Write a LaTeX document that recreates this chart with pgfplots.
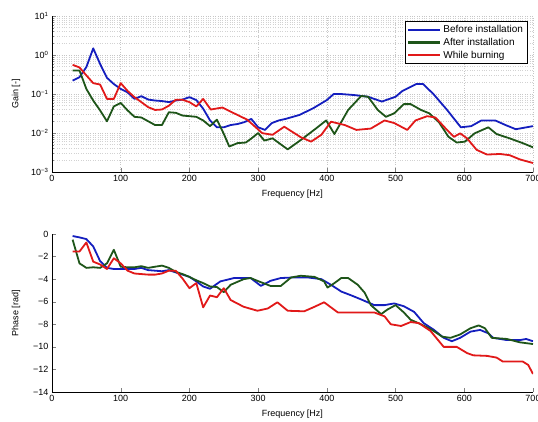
\documentclass[border=0pt]{standalone}
\usepackage{fontspec}
\setmainfont{Liberation Sans}
\usepackage{pgfplots}
\pgfplotsset{compat=1.18}
\definecolor{cblue}{RGB}{20,30,190}
\definecolor{cgreen}{RGB}{30,85,25}
\definecolor{cred}{RGB}{225,25,25}
\begin{document}
\begin{tikzpicture}
\pgfplotsset{
  myax/.style={
    scale only axis, width=481pt,
    xmin=0, xmax=700, xtick={0,100,...,700},
    axis x line*=bottom, axis y line*=left,
    tick align=inside,
    major tick length=4pt, minor tick length=2pt,
    /pgf/number format/assume math mode=true,
    tick label style={font=\fontsize{9}{10}\selectfont},
    label style={font=\fontsize{9}{10}\selectfont},
    xlabel={Frequency [Hz]},
    xlabel style={at={(axis description cs:0.5,0)},anchor=center,yshift=-22pt},
    ylabel style={at={(axis description cs:0,0.5)},anchor=center,yshift=36pt},
  },
  ln/.style={line width=1.8pt, line join=round},
}
\begin{axis}[myax,
  height=156pt, at={(52pt,249pt)}, anchor=south west,
  ymode=log, ymin=1e-3, ymax=10,
  ytick={1e-3,1e-2,1e-1,1,10},
  yticklabels={10\textsuperscript{−3},10\textsuperscript{−2},10\textsuperscript{−1},10\textsuperscript{0},10\textsuperscript{1}},
  ylabel={Gain [-]},
  xmajorgrids, ymajorgrids, yminorgrids,
  major grid style={dotted, gray!45, line width=0.5pt},
  minor grid style={dotted, gray!35, line width=0.5pt},
  legend style={at={(rel axis cs:0.988,0.968)}, anchor=north east, draw=black, line width=0.6pt,
    font=\fontsize{10}{11}\selectfont, inner sep=2pt, row sep=0pt, cells={anchor=west}},
  legend image code/.code={\draw[#1, line width=2.2pt, line cap=butt] (0pt,0pt) -- (32pt,0pt);},
]
\addplot[cblue, ln] coordinates {
(30,0.22)(40,0.27)(50,0.49)(60,1.48)(70,0.59)(80,0.26)(90,0.18)(100,0.135)(110,0.11)(120,0.075)
(130,0.088)(140,0.072)(150,0.068)(160,0.066)(170,0.062)(180,0.068)(190,0.072)(200,0.083)(210,0.07)
(220,0.042)(230,0.021)(240,0.014)(250,0.014)(260,0.016)(270,0.017)(280,0.019)(290,0.023)(300,0.014)
(310,0.012)(320,0.018)(330,0.021)(340,0.023)(360,0.029)(380,0.043)(400,0.07)(410,0.10)(420,0.10)
(440,0.094)(460,0.085)(480,0.064)(500,0.085)(510,0.12)(530,0.18)(540,0.18)(555,0.10)(575,0.039)
(595,0.014)(610,0.015)(625,0.021)(645,0.021)(660,0.016)(675,0.0125)(700,0.015)};
\addlegendentry{Before installation}
\addplot[cgreen, ln] coordinates {
(30,0.40)(40,0.40)(50,0.135)(60,0.068)(70,0.038)(80,0.020)(90,0.048)(100,0.059)(110,0.038)(120,0.026)
(130,0.025)(140,0.020)(150,0.016)(160,0.016)(170,0.034)(180,0.033)(190,0.028)(200,0.027)(210,0.026)
(220,0.021)(230,0.015)(240,0.022)(250,0.0095)(258,0.0045)(270,0.0055)(282,0.0057)(290,0.0072)(300,0.010)
(309,0.0064)(321,0.0073)(343,0.0038)(362,0.0066)(384,0.013)(399,0.021)(411,0.0094)(431,0.039)(450,0.089)
(460,0.085)(474,0.039)(486,0.026)(498,0.032)(512,0.055)(522,0.055)(537,0.039)(549,0.032)(563,0.019)
(577,0.008)(589,0.0057)(601,0.006)(615,0.0098)(635,0.014)(647,0.0094)(666,0.0073)(685,0.0055)(700,0.0043)};
\addlegendentry{After installation}
\addplot[cred, ln] coordinates {
(30,0.56)(40,0.48)(50,0.30)(60,0.19)(70,0.175)(80,0.075)(90,0.075)(100,0.19)(110,0.12)(120,0.083)
(130,0.062)(140,0.046)(150,0.039)(160,0.040)(170,0.050)(180,0.071)(190,0.071)(200,0.062)(210,0.048)
(220,0.075)(231,0.04)(248,0.045)(265,0.032)(284,0.022)(306,0.0099)(321,0.009)(338,0.0145)(362,0.0078)
(377,0.006)(392,0.009)(406,0.0195)(426,0.016)(443,0.012)(464,0.013)(484,0.021)(498,0.018)(517,0.012)
(529,0.021)(546,0.027)(558,0.025)(573,0.013)(585,0.008)(594,0.0098)(604,0.0073)(618,0.0037)(633,0.0028)
(652,0.0029)(666,0.0027)(681,0.0021)(700,0.0017)};
\addlegendentry{While burning}
\end{axis}
\begin{axis}[myax,
  height=158pt, at={(52pt,29pt)}, anchor=south west,
  ymin=-14, ymax=0, ytick={-14,-12,...,0},
  yticklabels={−14,−12,−10,−8,−6,−4,−2,0},
  ylabel={Phase [rad]},
]
\addplot[cblue, ln] coordinates {
(30,-0.18)(40,-0.3)(50,-0.45)(60,-1.1)(70,-2.4)(80,-3.0)(90,-3.1)(100,-3.1)(120,-3.1)(130,-3.0)
(140,-3.2)(160,-3.3)(170,-3.2)(180,-3.4)(190,-3.6)(200,-3.8)(210,-4.2)(220,-4.65)(230,-4.85)(245,-4.2)
(265,-3.9)(289,-3.9)(304,-4.6)(318,-4.15)(333,-3.9)(353,-3.85)(372,-3.85)(392,-4.0)(406,-4.5)(421,-5.1)
(436,-5.45)(450,-5.8)(469,-6.3)(484,-6.3)(498,-6.15)(512,-6.4)(527,-6.9)(541,-7.9)(556,-8.5)(570,-9.2)
(582,-9.5)(594,-9.2)(609,-8.65)(623,-8.5)(635,-8.8)(642,-9.2)(662,-9.4)(681,-9.4)(690,-9.3)(700,-9.5)};
\addplot[cgreen, ln] coordinates {
(30,-0.5)(40,-2.6)(50,-3.0)(60,-2.95)(70,-3.0)(80,-2.6)(90,-1.4)(100,-2.9)(110,-2.95)(120,-2.95)
(130,-2.85)(140,-3.0)(150,-2.9)(160,-2.8)(170,-3.0)(180,-3.35)(190,-3.55)(200,-3.8)(210,-4.1)(220,-4.35)
(230,-4.65)(240,-4.7)(250,-5.15)(260,-4.5)(279,-4.0)(289,-3.9)(299,-4.15)(318,-4.6)(333,-4.6)(348,-3.85)
(362,-3.7)(382,-3.8)(396,-4.2)(401,-4.75)(411,-4.35)(421,-3.9)(431,-3.9)(445,-4.5)(455,-5.2)(464,-6.3)
(479,-7.1)(488,-6.7)(500,-6.3)(512,-6.95)(522,-7.6)(537,-8.0)(553,-8.5)(568,-9.1)(580,-9.2)(594,-8.9)
(609,-8.35)(621,-8.1)(630,-8.35)(640,-9.2)(662,-9.3)(681,-9.6)(700,-9.75)};
\addplot[cred, ln] coordinates {
(30,-1.55)(40,-1.55)(50,-0.75)(60,-2.45)(70,-2.7)(80,-3.1)(90,-2.15)(100,-2.6)(110,-3.25)(120,-3.5)
(130,-3.55)(140,-3.6)(150,-3.6)(160,-3.5)(170,-3.25)(180,-3.25)(190,-3.95)(200,-4.8)(210,-4.35)(220,-6.5)
(230,-5.45)(240,-5.6)(250,-4.8)(260,-5.85)(279,-6.45)(299,-6.8)(314,-6.6)(328,-6.05)(343,-6.8)(367,-6.85)
(382,-6.45)(396,-6.05)(416,-6.95)(436,-6.95)(469,-6.95)(484,-7.3)(493,-8.0)(508,-8.15)(522,-7.8)(534,-7.9)
(551,-8.6)(570,-10.0)(589,-10.0)(604,-10.55)(613,-10.75)(633,-10.8)(647,-10.95)(656,-11.3)(685,-11.3)
(693,-11.6)(700,-12.4)};
\end{axis}
\pgfresetboundingbox
\path[use as bounding box] (0,0) rectangle (538pt,421pt);
\end{tikzpicture}
\end{document}
